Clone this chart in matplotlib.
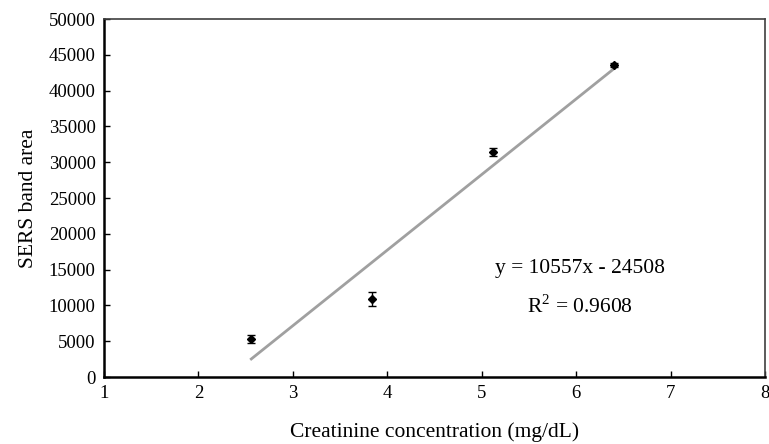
import numpy as np
from matplotlib import pyplot as plt

conc = [2.56, 3.84, 5.12, 6.40]
area = [5300, 10900, 31450, 43550]
err = [500, 1000, 600, 250]
slope = 10557
intercept = -24508

plt.rcParams['font.family'] = ['Liberation Serif', 'DejaVu Serif']
plt.rcParams['mathtext.fontset'] = 'custom'
plt.rcParams['mathtext.rm'] = 'Liberation Serif'

graph = plt.figure(figsize=(7.69, 4.44), dpi=100)
out = graph.add_axes([0.1352, 0.1509, 0.8596, 0.8063])

xs = np.array([conc[0], conc[-1]])
out.plot(xs, slope*xs + intercept, color='#a0a0a0', lw=2, zorder=1)
out.errorbar(conc, area, yerr=err, fmt='D', color='k', ms=4, capsize=3,
             elinewidth=1, capthick=1, zorder=2)

out.set_xlim(1, 8)
out.set_ylim(0, 50000)
out.set_xticks(range(1, 9))
out.set_yticks(range(0, 50001, 5000))
out.tick_params(direction='in', length=4, width=1, labelsize=13.5, pad=6)
out.spines['left'].set_linewidth(1.8)
out.spines['bottom'].set_linewidth(1.8)
out.spines['top'].set_linewidth(1.2)
out.spines['right'].set_linewidth(1.2)
out.spines['top'].set_color('#404040')
out.spines['right'].set_color('#404040')

out.set_xlabel('Creatinine concentration (mg/dL)', fontsize=15.5, labelpad=14)
out.set_ylabel('SERS band area', fontsize=15.5, labelpad=8)

out.text(0.72, 0.29, 'y = 10557x - 24508', transform=out.transAxes,
         fontsize=15.5, ha='center')
out.text(0.72, 0.18, r'R$^{\mathrm{2}}$ = 0.9608', transform=out.transAxes,
         fontsize=15.5, ha='center')

graph.savefig('out.png', dpi=100)
